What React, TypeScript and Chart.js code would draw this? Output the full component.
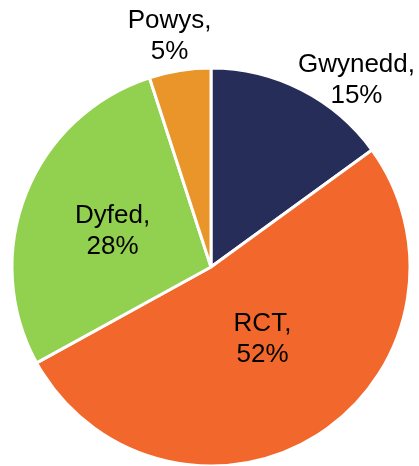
import React, { useEffect, useRef } from "react";
import { Chart, registerables } from "chart.js";

Chart.register(...registerables);

const categories = ["Gwynedd", "RCT", "Dyfed", "Powys"];
const shares = [15, 52, 28, 5];
const sliceColors = ["#262D59", "#F2682C", "#92D050", "#E9952A"];
// label placement: radius factor and angular shift (deg) from slice mid-angle
const labelRadius = [1.198, 0.437, 0.53, 1.188];
const labelShift = [10.6, -3.9, -0.6, -1.1];

const labelPlugin = {
  id: "sliceLabels",
  afterDatasetsDraw(chart: any) {
    const ctx = chart.ctx;
    const meta = chart.getDatasetMeta(0);
    ctx.save();
    ctx.fillStyle = "#000000";
    ctx.font = "26px 'Liberation Sans', Arial, sans-serif";
    ctx.textAlign = "center";
    ctx.textBaseline = "alphabetic";
    meta.data.forEach((arc: any, i: number) => {
      const { x, y, startAngle, endAngle, outerRadius } = arc.getProps(
        ["x", "y", "startAngle", "endAngle", "outerRadius"],
        true
      );
      const mid = (startAngle + endAngle) / 2 + (labelShift[i] * Math.PI) / 180;
      const r = outerRadius * labelRadius[i];
      const cx = x + Math.cos(mid) * r;
      const cy = y + Math.sin(mid) * r;
      const lines = [categories[i] + ",", shares[i] + "%"];
      const lh = 31;
      const capMid = 9.3;
      ctx.fillText(lines[0], cx, cy - lh / 2 + capMid);
      ctx.fillText(lines[1], cx, cy + lh / 2 + capMid);
    });
    ctx.restore();
  },
};

export default function App() {
  const ref = useRef<HTMLCanvasElement | null>(null);
  useEffect(() => {
    document.body.style.margin = "0";
    const chart = new Chart(ref.current!, {
      type: "pie",
      data: {
        labels: categories,
        datasets: [
          {
            data: shares,
            backgroundColor: sliceColors,
            borderColor: "#FFFFFF",
            borderWidth: 3,
          },
        ],
      },
      options: {
        responsive: false,
        animation: false,
        radius: 199,
        layout: { padding: { top: 68, left: 11, right: 8, bottom: 0 } },
        plugins: {
          legend: { display: false },
          tooltip: { enabled: false },
          title: { display: false },
        },
      },
      plugins: [labelPlugin],
    });
    return () => chart.destroy();
  }, []);
  return (
    <div style={{ position: "absolute", left: 0, top: 0, width: 419, height: 466, background: "#fff" }}>
      <canvas ref={ref} width={419} height={466} style={{ width: 419, height: 466 }} />
    </div>
  );
}
